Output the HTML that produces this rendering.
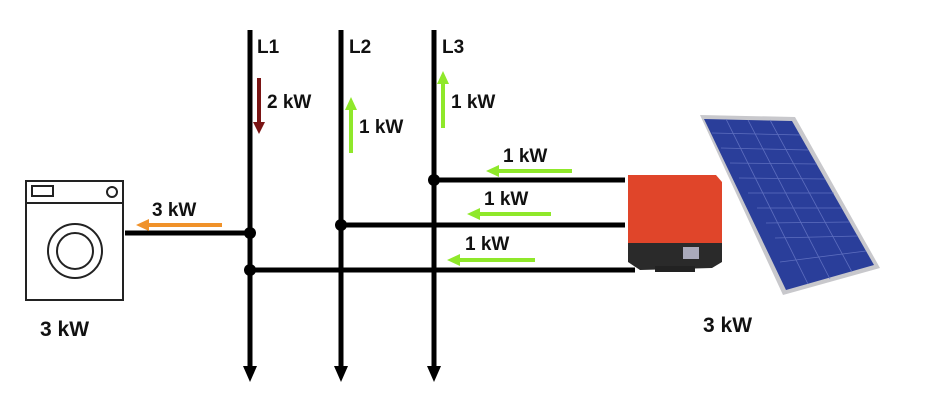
<!DOCTYPE html>
<html><head><style>body{margin:0;background:#fff}svg{display:block}text{font-family:"Liberation Sans",sans-serif;font-weight:bold;fill:#111}</style></head><body>
<svg width="937" height="413" viewBox="0 0 937 413" xmlns="http://www.w3.org/2000/svg">
<defs>
<marker id="ah" markerWidth="6" markerHeight="6" refX="3" refY="3" orient="auto"><path d="M0,0L6,3L0,6z" fill="#000"/></marker>
</defs>
<!-- washer -->
<g fill="none" stroke="#222" stroke-width="2">
<rect x="26" y="181" width="97" height="119"/>
<line x1="26" y1="203" x2="123" y2="203"/>
<rect x="32" y="186" width="21" height="10"/>
<circle cx="112" cy="192" r="5"/>
<circle cx="75" cy="251" r="27"/>
<circle cx="75" cy="251" r="18"/>
</g>
<!-- bus lines -->
<g stroke="#000" stroke-width="5">
<line x1="250" y1="30" x2="250" y2="368"/>
<line x1="341" y1="30" x2="341" y2="368"/>
<line x1="434" y1="30" x2="434" y2="368"/>
<line x1="125" y1="233" x2="250" y2="233"/>
<line x1="434" y1="180" x2="625" y2="180"/>
<line x1="341" y1="225" x2="625" y2="225"/>
<line x1="250" y1="270" x2="635" y2="270"/>
</g>
<g fill="#000">
<path d="M243,366L257,366L250,382z"/><path d="M334,366L348,366L341,382z"/><path d="M427,366L441,366L434,382z"/>
<circle cx="250" cy="233" r="6"/><circle cx="250" cy="270" r="6"/><circle cx="341" cy="225" r="6"/><circle cx="434" cy="180" r="6"/>
</g>
<!-- flow arrows -->
<g stroke-width="4">
<line x1="259" y1="78" x2="259" y2="124" stroke="#7a1414"/><path d="M253,122L265,122L259,134z" fill="#7a1414"/>
<line x1="351" y1="153" x2="351" y2="108" stroke="#8fe82a"/><path d="M345,110L357,110L351,97z" fill="#8fe82a"/>
<line x1="443" y1="128" x2="443" y2="82" stroke="#8fe82a"/><path d="M437,84L449,84L443,71z" fill="#8fe82a"/>
<line x1="572" y1="171" x2="497" y2="171" stroke="#8fe82a"/><path d="M499,165L499,177L486,171z" fill="#8fe82a"/>
<line x1="551" y1="214" x2="478" y2="214" stroke="#8fe82a"/><path d="M480,208L480,220L467,214z" fill="#8fe82a"/>
<line x1="535" y1="260" x2="458" y2="260" stroke="#8fe82a"/><path d="M460,254L460,266L447,260z" fill="#8fe82a"/>
<line x1="222" y1="225" x2="147" y2="225" stroke="#f0922a"/><path d="M149,219L149,231L136,225z" fill="#f0922a"/>
</g>
<!-- labels -->
<g font-size="19">
<text x="257" y="53">L1</text><text x="349" y="53">L2</text><text x="442" y="53">L3</text>
<text x="267" y="108">2 kW</text><text x="359" y="133">1 kW</text><text x="451" y="108">1 kW</text>
<text x="503" y="162">1 kW</text><text x="484" y="205">1 kW</text><text x="465" y="250">1 kW</text>
<text x="152" y="216">3 kW</text>
</g>
<text x="40" y="336" font-size="21">3 kW</text>
<text x="703" y="332" font-size="21">3 kW</text>
<!-- inverter -->
<path d="M628,175L716,175L722,182L722,245L628,245z" fill="#e0452a"/>
<path d="M628,243L722,243L722,262L712,268L640,270L628,262z" fill="#2a2a2a"/>
<rect x="683" y="247" width="16" height="12" fill="#aab"/>
<rect x="655" y="266" width="40" height="6" fill="#222"/>
<!-- solar panel -->
<path d="M700,115L795,117L880,268L783,295z" fill="#c8c8cc"/>
<path d="M704,119L792,121L874,265L786,290z" fill="#2a3e9a"/>
<g stroke="#6a7ac8" stroke-width="0.8" opacity="0.8">
<line x1="712" y1="133" x2="800" y2="135"/><line x1="721" y1="148" x2="808" y2="150"/>
<line x1="730" y1="163" x2="817" y2="164"/><line x1="739" y1="178" x2="825" y2="179"/>
<line x1="748" y1="193" x2="834" y2="193"/><line x1="757" y1="208" x2="842" y2="208"/>
<line x1="766" y1="223" x2="850" y2="222"/><line x1="775" y1="238" x2="858" y2="236"/>
<line x1="780" y1="262" x2="866" y2="251"/>
<line x1="726" y1="119" x2="808" y2="284"/><line x1="748" y1="120" x2="830" y2="279"/><line x1="770" y1="120" x2="852" y2="272"/>
</g>
</svg>
</body></html>
